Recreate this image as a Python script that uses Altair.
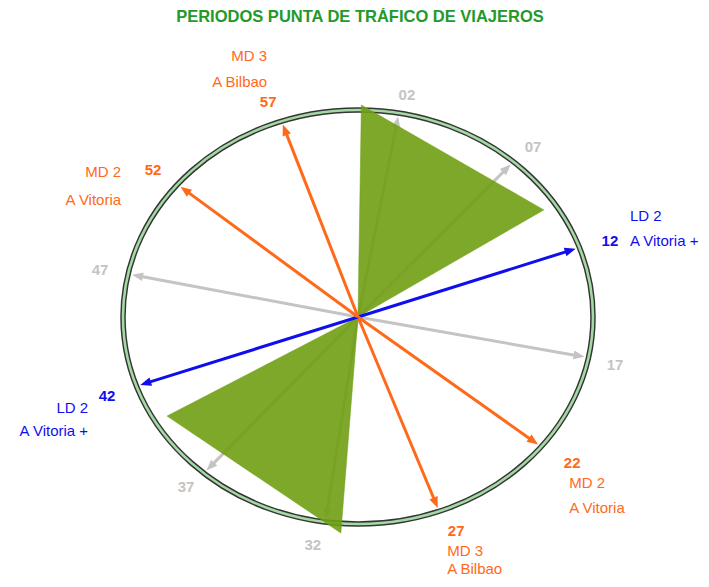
import math
import pandas as pd
import altair as alt

# ---------------- data ----------------
TITLE = "PERIODOS PUNTA DE TRÁFICO DE VIAJEROS"
MINUTES = ["02", "07", "12", "17", "22", "27", "32", "37", "42", "47", "52", "57"]
# direction of each arrow on the dial (degrees clockwise from 12 o'clock)
ANGLES = [10, 41.4, 70.4, 101.3, 128.8, 159.8, 188, 221, 250.5, 282, 309.8, 341]
KIND = ["none", "none", "LD", "none", "MD", "MD", "none", "none", "LD", "none", "MD", "MD"]
SERVICE = ["", "", "LD 2", "", "MD 2", "MD 3", "", "", "LD 2", "", "MD 2", "MD 3"]
DEST = ["", "", "A Vitoria +", "", "A Vitoria", "A Bilbao", "", "", "A Vitoria +", "", "A Vitoria", "A Bilbao"]

# peak-period sectors (triangles): vertex angle (deg) and radius (fraction of dial)
TRI_ID = [1, 1, 1, 2, 2, 2]
TRI_ORDER = [0, 1, 2, 0, 1, 2]
TRI_ANGLE = [0.8, 56.8, 0, 0, 239.5, 184]
TRI_R = [1.024, 0.945, 0, 0, 0.943, 1.046]

# ---------------- layout ----------------
RX, RY = 235.0, 207.0          # dial radii in px
W, H = 693, 571
CX, CY = 350.0, 309.0          # dial centre inside the view (px)
X0, X1 = -CX / RX, (W - CX) / RX
Y1, Y0 = CY / RY, -(H - CY) / RY
TIP_R = 0.983
LABEL_LAYOUT = {  # angle, radius of number labels
    "02": (11.0, 1.092), "07": (42.2, 1.109), "12": (71.1, 1.133), "17": (102, 1.118),
    "22": (127.7, 1.152), "27": (158, 1.115), "32": (189.9, 1.118), "37": (221.7, 1.1),
    "42": (250.3, 1.134), "47": (281.7, 1.121), "52": (309.2, 1.125), "57": (339.8, 1.107),
}
TEXT_LAYOUT = {  # align, dx, dy service, dy destination (px)
    "12": ("left", 20, -25, 0), "22": ("left", -3, 20, 45), "27": ("left", -9, 20, 38),
    "42": ("right", -19, 12, 35), "52": ("right", -32, 2, 30), "57": ("right", -1, -46, -20),
}

ORANGE, BLUE, GREY = "#ff6a1a", "#0f0fee", "#c4c4c4"
FONT = "Liberation Sans"


def polar(a, r):
    t = math.radians(a)
    return r * math.sin(t), r * math.cos(t)


rows = []
for m, a, k in zip(MINUTES, ANGLES, KIND):
    tx, ty = polar(a, TIP_R)
    t = math.radians(a)
    L = TIP_R * math.hypot(RX * math.sin(t), RY * math.cos(t))
    f = (L - 7) / L
    rot = math.degrees(math.atan2(RX * math.sin(t), RY * math.cos(t)))
    rows.append(dict(minute=m, kind=k, x0=0.0, y0=0.0, xl=tx * f, yl=ty * f,
                     tx=tx, ty=ty, rot=rot % 360))
arrows = pd.DataFrame(rows)

lab = []
for m, k in zip(MINUTES, KIND):
    a, r = LABEL_LAYOUT[m]
    lx, ly = polar(a, r)
    lab.append(dict(minute=m, kind=k, x=lx, y=ly))
labels = pd.DataFrame(lab)

names = []
for m, k, s, d in zip(MINUTES, KIND, SERVICE, DEST):
    if not s:
        continue
    a, r = LABEL_LAYOUT[m]
    lx, ly = polar(a, r)
    al, dx, dy1, dy2 = TEXT_LAYOUT[m]
    names.append(dict(kind=k, side=al, text=s, x=lx + dx / RX, y=ly - dy1 / RY))
    names.append(dict(kind=k, side=al, text=d, x=lx + dx / RX, y=ly - dy2 / RY))
names = pd.DataFrame(names)

tri = []
for i, o, a, r in zip(TRI_ID, TRI_ORDER, TRI_ANGLE, TRI_R):
    x, y = polar(a, r)
    tri.append(dict(tri=i, o=o, x=x, y=y))
tri = pd.DataFrame(tri)

xs = alt.Scale(domain=[X0, X1], nice=False, zero=False)
ys = alt.Scale(domain=[Y0, Y1], nice=False, zero=False)
col = alt.Scale(domain=["none", "LD", "MD"], range=[GREY, BLUE, ORANGE])
lcol = alt.Scale(domain=["none", "LD", "MD"], range=["#c8c8c8", "#1a1aee", "#ff6d25"])

b = RY / RX
k = 0.5523
ELLIPSE = (f"M1,0 C1,{k*b:.4f} {k:.4f},{b:.4f} 0,{b:.4f} "
           f"C{-k:.4f},{b:.4f} -1,{k*b:.4f} -1,0 "
           f"C-1,{-k*b:.4f} {-k:.4f},{-b:.4f} 0,{-b:.4f} "
           f"C{k:.4f},{-b:.4f} 1,{-k*b:.4f} 1,0 Z")
ARROW = "M0,0 L0.72,1.8 L-0.72,1.8 Z"

centre = pd.DataFrame({"x": [0.0], "y": [0.0]})
dial_dark = alt.Chart(centre).mark_point(
    shape=ELLIPSE, size=(2 * RX) ** 2, filled=False, stroke="#353535", strokeWidth=5.5, opacity=1
).encode(x=alt.X("x:Q", scale=xs, axis=None), y=alt.Y("y:Q", scale=ys, axis=None))
dial_green = alt.Chart(centre).mark_point(
    shape=ELLIPSE, size=(2 * RX) ** 2, filled=False, stroke="#a3d9a3", strokeWidth=2.6, opacity=1
).encode(x=alt.X("x:Q", scale=xs, axis=None), y=alt.Y("y:Q", scale=ys, axis=None))


def arrow_layers(df):
    lines = alt.Chart(df).mark_rule(strokeWidth=3).encode(
        x=alt.X("x0:Q", scale=xs, axis=None), y=alt.Y("y0:Q", scale=ys, axis=None),
        x2="xl:Q", y2="yl:Q",
        color=alt.Color("kind:N", scale=col, legend=None))
    heads = alt.Chart(df).mark_point(shape=ARROW, size=150, filled=True, opacity=1, strokeWidth=0).encode(
        x=alt.X("tx:Q", scale=xs, axis=None), y=alt.Y("ty:Q", scale=ys, axis=None),
        angle=alt.Angle("rot:Q", scale=None),
        color=alt.Color("kind:N", scale=col, legend=None))
    return lines + heads


grey_arrows = arrow_layers(arrows[arrows["kind"] == "none"])
col_arrows = arrow_layers(arrows[arrows["kind"] != "none"])

triangles = alt.Chart(tri).mark_line(
    interpolate="linear-closed", fill="#6f9f12", fillOpacity=0.9, stroke="#6f9f12", strokeWidth=0.5
).encode(
    x=alt.X("x:Q", scale=xs, axis=None), y=alt.Y("y:Q", scale=ys, axis=None),
    detail="tri:N", order="o:Q")

num_text = alt.Chart(labels).mark_text(
    font=FONT, fontSize=15, fontWeight="bold", align="center", baseline="middle"
).encode(
    x=alt.X("x:Q", scale=xs, axis=None), y=alt.Y("y:Q", scale=ys, axis=None),
    text="minute:N", color=alt.Color("kind:N", scale=lcol, legend=None))

name_layers = []
for al in ["left", "right"]:
    name_layers.append(alt.Chart(names[names["side"] == al]).mark_text(
        font=FONT, fontSize=15, align=al, baseline="middle"
    ).encode(
        x=alt.X("x:Q", scale=xs, axis=None), y=alt.Y("y:Q", scale=ys, axis=None),
        text="text:N", color=alt.Color("kind:N", scale=lcol, legend=None)))

title = alt.Chart(pd.DataFrame({"t": [TITLE]})).mark_text(
    font=FONT, fontSize=16.5, fontWeight="bold", color="#23992b", align="center", baseline="middle"
).encode(x=alt.value(352), y=alt.value(9), text="t:N")

chart = alt.layer(
    dial_dark, dial_green, grey_arrows, triangles, col_arrows, num_text, *name_layers, title
).properties(
    width=W, height=H, padding=0, autosize=alt.AutoSizeParams(type="none")
).configure_view(stroke=None)

chart.save("out.html", embed_options={"renderer": "svg", "actions": False})
